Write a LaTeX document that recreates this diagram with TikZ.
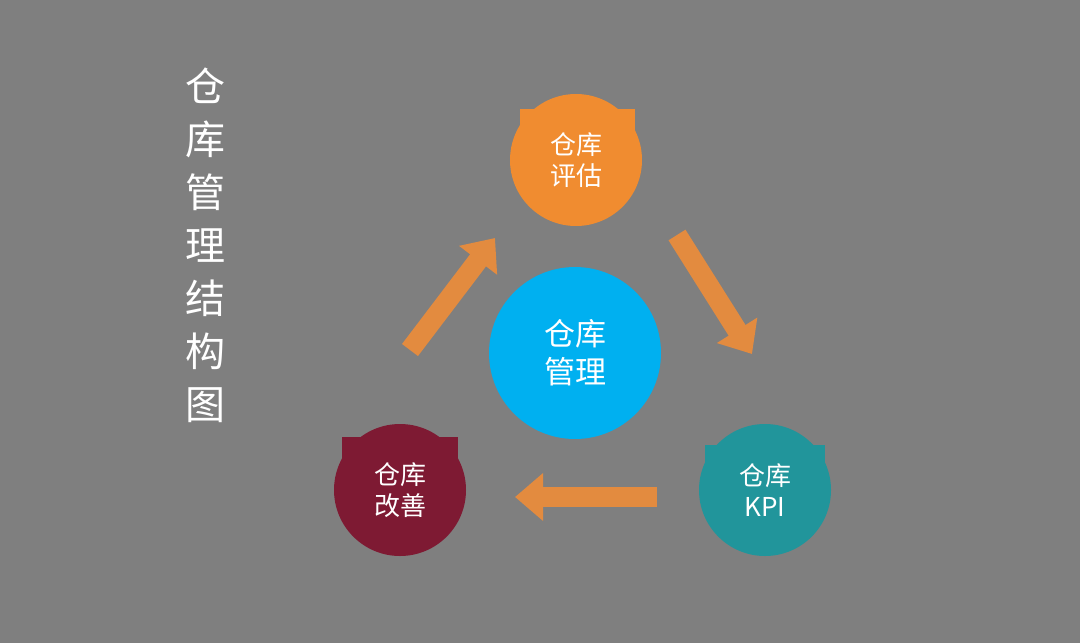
\documentclass[tikz,border=0pt]{standalone}
\usepackage{fontspec}
\setmainfont{Noto Sans CJK SC}
\usetikzlibrary{arrows.meta}
\definecolor{bgray}{HTML}{7F7F7F}
\definecolor{evalorange}{HTML}{F08C30}
\definecolor{coreblue}{HTML}{00B0F0}
\definecolor{kpiteal}{HTML}{21959B}
\definecolor{fixred}{HTML}{7E1A33}
\definecolor{arroworange}{HTML}{E38B3F}
\begin{document}
\begin{tikzpicture}[x=1pt,y=-1pt]
        % Define styles
        \tikzset{stage/.style={circle,fill=#1,minimum size=132pt,inner sep=0pt,text=white,font=\fontsize{26}{31}\selectfont,align=center},
                 tab/.style={fill=#1},
                 flow/.style={arroworange,line width=20pt,-{Triangle[width=46pt,length=28pt]}}}
        
        % Background
        \fill[bgray] (0,0) rectangle (1080,643);
        
        % Title
        \node[text=white,font=\fontsize{40}{53}\selectfont,align=center] (title) at (205,245) {仓\\库\\管\\理\\结\\构\\图};
        
        % Tabs behind the circles
        \fill[evalorange] (520,109) rectangle (635,150);
        \fill[fixred] (342,437) rectangle (458,480);
        \fill[kpiteal] (705,445) rectangle (825,490);
        
        % Circles
        \node[stage=evalorange] (eval) at (576,160) {仓库\\评估};
        \node[stage=kpiteal] (kpi) at (765,490) {仓库\\KPI};
        \node[stage=fixred] (fix) at (400,490) {仓库\\改善};
        \node[circle,fill=coreblue,minimum size=172pt,text=white,font=\fontsize{31}{38}\selectfont,align=center] (core) at (575,353) {仓库\\管理};
        
        % Arrows
        \coordinate (a1) at (410,350); \coordinate (b1) at (495,238);
        \coordinate (a2) at (677,235); \coordinate (b2) at (752,354);
        \coordinate (a3) at (657,497); \coordinate (b3) at (515,497);
        \draw[flow] (a1) -- (b1);
        \draw[flow] (a2) -- (b2);
        \draw[flow] (a3) -- (b3);
\end{tikzpicture}
\end{document}
